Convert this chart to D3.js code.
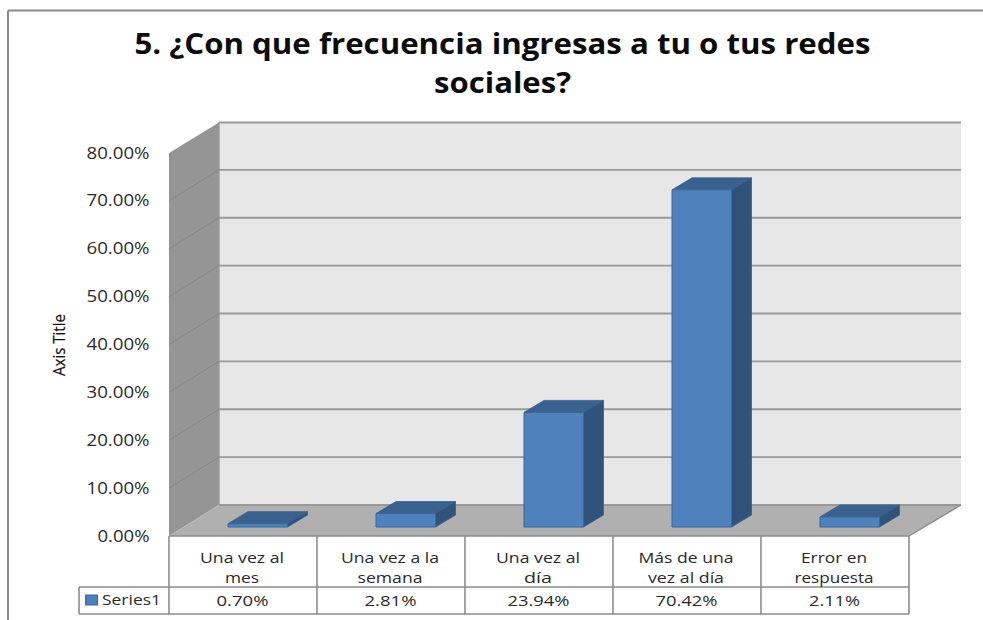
<!DOCTYPE html>
<html><head><meta charset="utf-8">
<script src="https://cdn.jsdelivr.net/npm/d3@7"></script>
<style>html,body{margin:0;padding:0;background:#fff}svg{display:block}text{font-family:"Open Sans",sans-serif}</style>
</head><body><svg id="c" width="983" height="620"></svg>
<script>
const categories=[["Una vez al","mes"],["Una vez a la","semana"],["Una vez al","día"],["Más de una","vez al día"],["Error en","respuesta"]];
const categoryWidths=[[84,34],[98,65],[84,28],[95,76],[66,79]];
const values=[0.70,2.81,23.94,70.42,2.11];
const valueLabels=["0.70%","2.81%","23.94%","70.42%","2.11%"];
const valueWidths=[52,52,62,62,51];
const ticks=[0,10,20,30,40,50,60,70,80];
const titleLines=["5. ¿Con que frecuencia ingresas a tu o tus redes","sociales?"];
const seriesName="Series1";
const axisTitle="Axis Title";

const svg=d3.select("#c");
const x=d3.scaleBand().domain(d3.range(categories.length)).range([169,909]);
const y=d3.scaleLinear().domain([0,80]).range([536,153]);
const dx=50,dy=-31;
const barD=[20,-12];
const gridCol="#999999",tableCol="#8c8c8c",ink="#2a2a2a";
const poly=(pts,fill,stroke,sw)=>svg.append("polygon").attr("points",pts.map(p=>p.join(",")).join(" ")).attr("fill",fill).attr("stroke",stroke||"none").attr("stroke-width",sw||0);
const line=(a,b,c,w)=>svg.append("line").attr("x1",a[0]).attr("y1",a[1]).attr("x2",b[0]).attr("y2",b[1]).attr("stroke",c).attr("stroke-width",w);

line([8,620],[8,10.5],"#8a8a8a",2);
line([8,10.5],[983,10.5],"#8a8a8a",2);

svg.append("g").selectAll("text").data(titleLines).join("text")
  .attr("x",502.5).attr("y",(d,i)=>54+i*39).attr("text-anchor","middle")
  .attr("font-size",28.5).attr("font-weight","bold").attr("fill","#0c0c0c")
  .attr("textLength",(d,i)=>i==0?736:137).attr("lengthAdjust","spacingAndGlyphs").text(d=>d);

const L=x.range()[0],R=x.range()[1];
poly([[L+dx,y(80)+dy+.5],[R+52,y(80)+dy+.5],[R+52,y(0)+dy],[L+dx,y(0)+dy]],"#e7e7e7");
poly([[L,y(80)],[L+dx,y(80)+dy+.5],[L+dx,y(0)+dy],[L,y(0)]],"#959595");
poly([[L,y(0)],[L+dx,y(0)+dy],[R+52,y(0)+dy],[R,y(0)]],"#b0b0b0");
line([L+dx,y(80)+dy],[L+dx,y(0)+dy],gridCol,1.4);
ticks.forEach(t=>{
  if(t>0&&t<80)line([L,y(t)],[L+dx,y(t)+dy],"#868686",1);
  line([L+dx,y(t)+dy+(t==80?.5:0)],[R+52,y(t)+dy+(t==80?.5:0)],gridCol,1.8);
});
line([R,y(0)],[R+52,y(0)+dy],"#8c8c8c",1.4);

const barW=59.5;
values.forEach((v,i)=>{
  const x0=x(i)+59, yb=y(0)-9, yt=yb-(y(0)-y(v));
  const d=barD;
  poly([[x0,yt],[x0+d[0],yt+d[1]],[x0+barW+d[0],yt+d[1]],[x0+barW,yt]],"#3b618f","#36608f",.8);
  poly([[x0+barW,yb],[x0+barW,yt],[x0+barW+d[0],yt+d[1]],[x0+barW+d[0],yb+d[1]]],"#30537c","#36608f",.8);
  poly([[x0,yb],[x0,yt],[x0+barW,yt],[x0+barW,yb]],"#4f81bd","#3a6699",1);
});

svg.append("g").selectAll("text").data(ticks).join("text")
  .attr("x",149.5).attr("y",t=>y(t)+5.5).attr("text-anchor","end")
  .attr("font-size",16).attr("fill",ink)
  .attr("textLength",t=>t==0?52:63).attr("lengthAdjust","spacingAndGlyphs").text(t=>t.toFixed(2)+"%");

svg.append("text").attr("transform","translate(65,345) rotate(-90)").attr("text-anchor","middle")
  .attr("font-size",17).attr("fill","#111").attr("stroke","#111").attr("stroke-width",.2)
  .attr("textLength",62).attr("lengthAdjust","spacingAndGlyphs").text(axisTitle);

const tTop=y(0),tMid=587,tBot=614,tLeft=79;
line([L,tTop],[R,tTop],tableCol,1.6);
line([tLeft,tMid],[R,tMid],tableCol,1.6);
line([tLeft,tBot],[R,tBot],tableCol,1.6);
line([tLeft,tMid],[tLeft,tBot],tableCol,1.6);
d3.range(categories.length+1).forEach(i=>{const xx=i<categories.length?x(i):R;line([xx,tTop],[xx,tBot],tableCol,1.6);});
categories.forEach((c,i)=>{
  c.forEach((s,j)=>svg.append("text").attr("x",x(i)+x.bandwidth()/2-1).attr("y",563+j*20).attr("text-anchor","middle").attr("font-size",15).attr("fill",ink)
    .attr("textLength",categoryWidths[i][j]).attr("lengthAdjust","spacingAndGlyphs").text(s));
  svg.append("text").attr("x",x(i)+x.bandwidth()/2-.5).attr("y",606).attr("text-anchor","middle").attr("font-size",15).attr("fill",ink)
    .attr("textLength",valueWidths[i]).attr("lengthAdjust","spacingAndGlyphs").text(valueLabels[i]);
});
svg.append("rect").attr("x",85.5).attr("y",595).attr("width",12).attr("height",10).attr("fill","#4f81bd").attr("stroke","#3a6699");
svg.append("text").attr("x",102).attr("y",605).attr("font-size",15).attr("fill",ink).attr("textLength",59).attr("lengthAdjust","spacingAndGlyphs").text(seriesName);
</script></body></html>
